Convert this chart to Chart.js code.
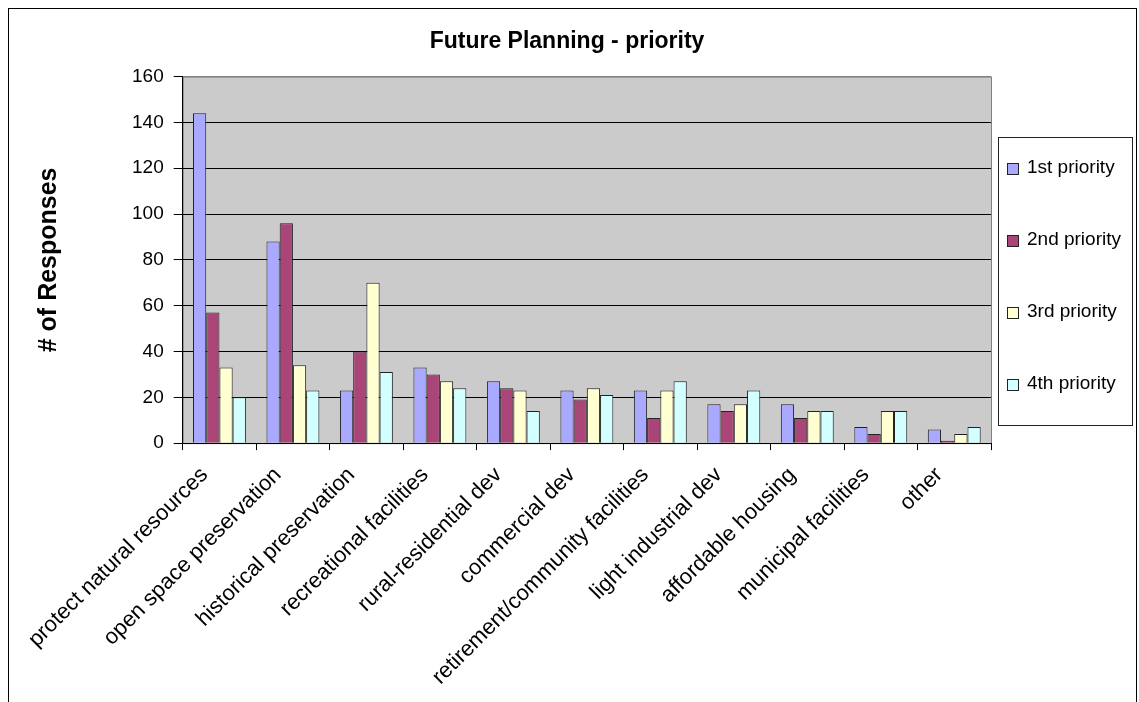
<!DOCTYPE html>
<html>
<head>
<meta charset="utf-8">
<title>Future Planning - priority</title>
<script src="https://cdn.jsdelivr.net/npm/chart.js@4"></script>
<style>
    html, body { margin: 0; padding: 0; background: #fff; }
</style>
</head>
<body>
<canvas id="priorityChart" width="1139" height="702"></canvas>
<script>
// chart data
const categories = ['protect natural resources', 'open space preservation', 'historical preservation',
    'recreational facilities', 'rural-residential dev', 'commercial dev', 'retirement/community facilities',
    'light industrial dev', 'affordable housing', 'municipal facilities', 'other'];
const seriesNames = ['1st priority', '2nd priority', '3rd priority', '4th priority'];
const firstPriority = [144, 88, 23, 33, 27, 23, 23, 17, 17, 7, 6];
const secondPriority = [57, 96, 40, 30, 24, 19, 11, 14, 11, 4, 1];
const thirdPriority = [33, 34, 70, 27, 23, 24, 23, 17, 14, 14, 4];
const fourthPriority = [20, 23, 31, 24, 14, 21, 27, 23, 14, 14, 7];
const yTickValues = [0, 20, 40, 60, 80, 100, 120, 140, 160];

const seriesColors = ['#a9a9ff', '#a94677', '#ffffd2', '#d2ffff'];
const fontFamily = '"Liberation Sans", Arial, sans-serif';

// white page, outer frame and the grey plot area
const frameAndBackground = {
    id: 'frameAndBackground',
    beforeDraw(chart) {
        const {ctx, chartArea: a, width, height} = chart;
        ctx.save();
        ctx.fillStyle = '#fff';
        ctx.fillRect(0, 0, width, height);
        ctx.strokeStyle = '#000';
        ctx.lineWidth = 1;
        ctx.strokeRect(8.5, 8.5, width - 11, height + 5); // bottom edge runs off the canvas
        ctx.fillStyle = '#cbcbcb';
        ctx.fillRect(a.left, a.top, a.width, a.height);
        ctx.strokeStyle = '#808080';
        ctx.strokeRect(a.left + 0.5, a.top + 0.5, a.width, a.height);
        ctx.restore();
    }
};

// boxed legend on the right, like the Excel one
const boxedLegend = {
    id: 'boxedLegend',
    afterDraw(chart) {
        const {ctx, chartArea: a} = chart;
        const left = Math.round(a.right) + 7;
        const top = Math.round(a.top) + 60;
        const w = 134;
        const h = Math.round(a.height) - 79;
        ctx.save();
        ctx.fillStyle = '#fff';
        ctx.fillRect(left, top, w, h);
        ctx.strokeStyle = '#222';
        ctx.lineWidth = 1;
        ctx.strokeRect(left + 0.5, top + 0.5, w, h);
        ctx.font = '19px ' + fontFamily;
        ctx.textBaseline = 'middle';
        chart.data.datasets.forEach((ds, i) => {
            const y = top + 31 + i * 72;
            ctx.fillStyle = ds.backgroundColor;
            ctx.fillRect(left + 9.5, y - 4.5, 11, 11);
            ctx.strokeStyle = '#222';
            ctx.strokeRect(left + 9.5, y - 4.5, 11, 11);
            ctx.fillStyle = '#000';
            ctx.fillText(ds.label, left + 29, y);
        });
        ctx.restore();
    }
};

const seriesData = [firstPriority, secondPriority, thirdPriority, fourthPriority];

const ctxBar = document.getElementById('priorityChart').getContext('2d');
const priorityChart = new Chart(ctxBar, {
    type: 'bar',
    data: {
        labels: categories,
        datasets: seriesNames.map((name, i) => ({
            label: name,
            data: seriesData[i],
            backgroundColor: seriesColors[i],
            borderColor: '#222',
            borderWidth: 1,
            barPercentage: 1.0,
            categoryPercentage: 0.72,
        })),
    },
    options: {
        responsive: false,
        animation: false,
        events: [],
        layout: {
            padding: { top: 10, left: 10, right: 15, bottom: 0 }
        },
        plugins: {
            title: {
                display: true,
                text: 'Future Planning - priority',
                color: '#000',
                font: { family: fontFamily, size: 23, weight: 'bold' },
                padding: { top: 18, bottom: 21 },
            },
            // built-in legend only keeps the right-hand column free, the boxed one is drawn by the plugin
            legend: {
                display: true,
                position: 'right',
                fullSize: false,
                labels: { filter: () => false, padding: 123 },
            },
            tooltip: { enabled: false },
        },
        scales: {
            x: {
                ticks: {
                    color: '#000',
                    font: { family: fontFamily, size: 22 },
                    minRotation: 45,
                    maxRotation: 45,
                    autoSkip: false,
                    padding: 12,
                    labelOffset: -15,
                },
                grid: {
                    drawOnChartArea: false,
                    tickLength: 7,
                    color: '#000',
                },
                border: { color: '#000' },
            },
            y: {
                min: yTickValues[0],
                max: yTickValues[yTickValues.length - 1],
                afterBuildTicks: axis => {
                    axis.ticks = yTickValues.map(v => ({ value: v }));
                },
                ticks: {
                    color: '#000',
                    font: { family: fontFamily, size: 19 },
                    padding: 10,
                },
                grid: {
                    color: c => (c.tick && c.tick.value === yTickValues[yTickValues.length - 1]) ? '#808080' : '#000',
                    tickColor: '#000',
                    tickLength: 9,
                },
                border: { color: '#000' },
                title: {
                    display: true,
                    text: '# of Responses',
                    color: '#000',
                    font: { family: fontFamily, size: 25, weight: 'bold' },
                    padding: { top: 24, bottom: 58 },
                },
            }
        }
    },
    plugins: [frameAndBackground, boxedLegend]
});
</script>
</body>
</html>
